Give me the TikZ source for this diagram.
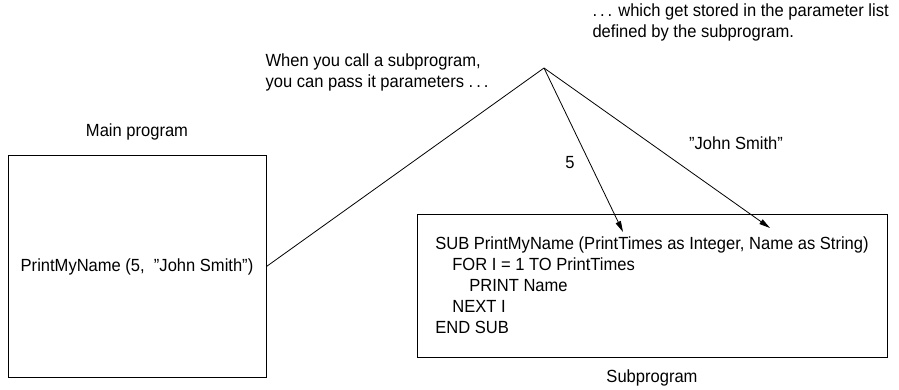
\documentclass[tikz,border=0pt]{standalone}
\usepackage{fontspec}
\setmainfont{Liberation Sans}[FakeStretch=0.94]
\usetikzlibrary{arrows.meta, positioning}

\begin{document}
\begin{tikzpicture}[
  x=1pt, y=-1pt,
  >={Triangle[length=11pt, width=5.5pt]},
  every node/.style={font=\fontsize{17.6}{21}\selectfont},
  %% ── Program box styles ──────────────────────────────────────────────────
  progbox/.style={
    draw, line width=1pt, inner sep=0pt
  },
  %% ── Line styles ─────────────────────────────────────────────────────────
  pass/.style={line width=0.8pt},
  arr/.style={->, line width=0.8pt},
  %% ── Text styles ─────────────────────────────────────────────────────────
  note/.style={align=left, anchor=west},
]

\useasboundingbox (0,0) rectangle (899,390);

%% ═══════════════════════════════════════════════════════════════════════════
%% BOXES
%% ═══════════════════════════════════════════════════════════════════════════

%% — Main program ────────────────────────────────────────────────────────────
\node[progbox, minimum width=258pt, minimum height=221pt]
  (main) at (137, 266.5)
  {PrintMyName (5,\ \ ”John Smith”)};

\node (mainlbl) at (137, 132) {Main program};

%% — Subprogram ──────────────────────────────────────────────────────────────
\node[progbox, minimum width=470pt, minimum height=143pt, align=left]
  (sub) at (652, 285.5)
  {SUB PrintMyName (PrintTimes as Integer, Name as String)\\
   \hspace*{17pt}FOR I = 1 TO PrintTimes\\
   \hspace*{34pt}PRINT Name\\
   \hspace*{17pt}NEXT I\\
   END SUB};

\node (sublbl) at (652, 378) {Subprogram};

%% ═══════════════════════════════════════════════════════════════════════════
%% PARAMETER PASSING
%% ═══════════════════════════════════════════════════════════════════════════

\coordinate (apex)  at (544, 68);
\coordinate (pint)  at (623, 232);
\coordinate (pstr)  at (770, 228);

\draw[pass] (main.east) -- (apex);
\draw[arr]  (apex) -- (pint);
\draw[arr]  (apex) -- (pstr);

\node (five) at (570, 163) {5};
\node (name) at (736, 143) {”John Smith”};

%% ═══════════════════════════════════════════════════════════════════════════
%% NOTES
%% ═══════════════════════════════════════════════════════════════════════════

\node[note] (callnote) at (262, 72)
  {When you call a subprogram,\\
   you can pass it parameters .\,.\,.};

\node[note] (storenote) at (589, 22)
  {.\,.\,. which get stored in the parameter list\\
   defined by the subprogram.};

\end{tikzpicture}
\end{document}
